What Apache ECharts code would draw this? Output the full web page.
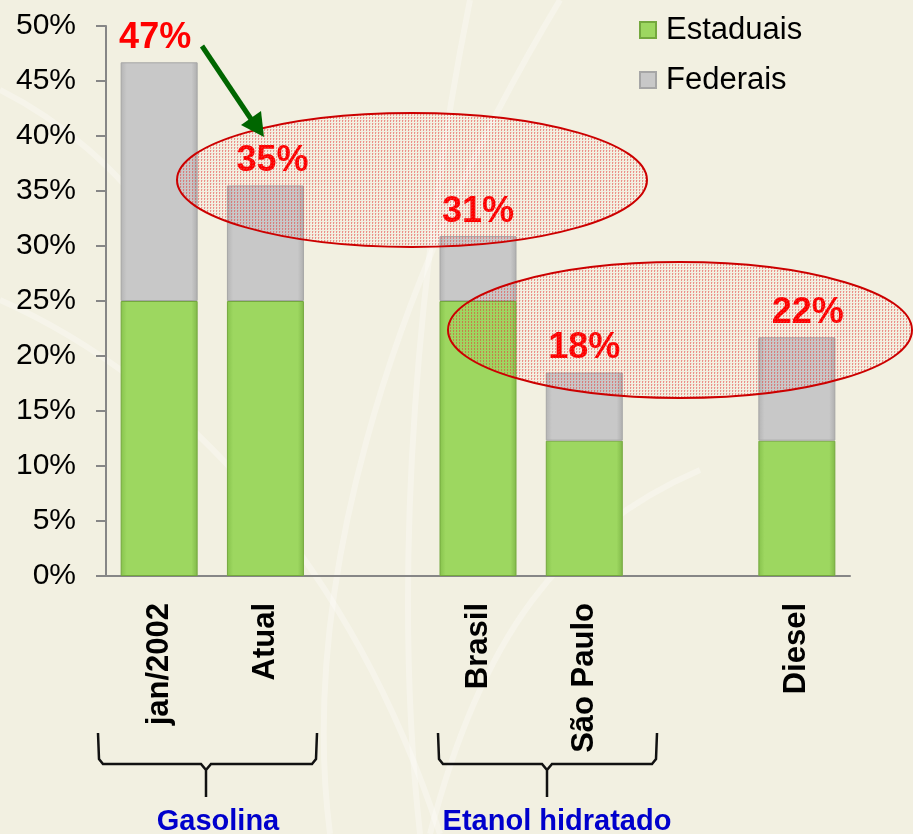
<!DOCTYPE html>
<html>
<head>
<meta charset="utf-8">
<script src="https://cdn.jsdelivr.net/npm/echarts@6/dist/echarts.min.js"></script>
<style>
html,body{margin:0;padding:0;background:#F2F0E1;}
#chart{width:913px;height:834px;}
</style>
</head>
<body>
<div id="chart"></div>
<script>
//categorias (as vazias separam os grupos)
var categorias = ['jan/2002', 'Atual', '', 'Brasil', 'São Paulo', '', 'Diesel'];
//tributos estaduais e federais (%)
var estaduais = [25, 25, null, 25, 12.3, null, 12.3];
var federais = [21.7, 10.5, null, 5.9, 6.2, null, 9.4];
//rotulos dos totais
var totais = ['47%', '35%', '', '31%', '18%', '', '22%'];
//grupos
var grupos = ['Gasolina', 'Etanol hidratado'];

var fonte = 'Arial, "Liberation Sans", sans-serif';

//deslocamento horizontal dos rotulos
var desloc = [-4, 7, 0, 0, 0, 0, 11];

//padrao pontilhado das elipses
function padrao(){
	var c = document.createElement('canvas');
	c.width = 3; c.height = 3;
	var ctx = c.getContext('2d');
	ctx.fillStyle = 'rgba(230,50,50,0.5)';
	ctx.fillRect(0, 0, 1, 2);
	ctx.fillStyle = 'rgba(240,120,120,0.25)';
	ctx.fillRect(1, 0, 1, 1);
	return {image: c, repeat: 'repeat'};
}

//chave embaixo do grupo
function chave(x1, x2, xc){
	var y0 = 733, y1 = 764, y2 = 797;
	return {
		type: 'polyline',
		z: 20,
		shape: {points: [[x1, y0], [x1 + 1, y1 - 5], [x1 + 5, y1], [xc - 5, y1], [xc, y1 + 6], [xc, y2],
			[xc, y1 + 6], [xc + 5, y1], [x2 - 5, y1], [x2 - 1, y1 - 5], [x2, y0]]},
		style: {stroke: '#111', lineWidth: 2.5, fill: null}
	};
}

function fundo(){
	var linhas = [
		[[330, 834], [300, 600], [380, 300], [560, 0]],
		[[420, 834], [390, 560], [420, 250], [470, 0]],
		[[0, 300], [180, 380], [350, 560], [440, 834]],
		[[430, 834], [480, 640], [560, 530], [700, 470]],
		[[0, 90], [60, 120], [120, 170], [160, 230]]
	];
	return linhas.map(function(p){
		return {
			type: 'bezierCurve',
			z: 0,
			shape: {x1: p[0][0], y1: p[0][1], cpx1: p[1][0], cpy1: p[1][1], cpx2: p[2][0], cpy2: p[2][1], x2: p[3][0], y2: p[3][1]},
			style: {stroke: 'rgba(255,255,255,0.3)', lineWidth: 6, fill: null}
		};
	});
}

var chart = echarts.init(document.getElementById('chart'));

var option = {
	backgroundColor: '#F2F0E1',
	animation: false,
	grid: {left: 106, right: 63, top: 26, bottom: 258},
	legend: {
		orient: 'vertical',
		left: 639,
		top: 12,
		padding: 0,
		itemWidth: 16,
		itemHeight: 16,
		itemGap: 14,
		icon: 'rect',
		textStyle: {fontFamily: fonte, fontSize: 31, color: '#000', lineHeight: 36, padding: [0, 0, 0, 5]},
		data: ['Estaduais', 'Federais']
	},
	xAxis: {
		type: 'category',
		data: categorias,
		axisLine: {lineStyle: {color: '#868686', width: 2}},
		axisTick: {length: 10, lineStyle: {color: '#868686', width: 2}},
		axisLabel: {
			rotate: 90,
			margin: 27,
			interval: 0,
			color: '#000',
			fontFamily: fonte,
			fontSize: 31,
			fontWeight: 'bold'
		}
	},
	yAxis: {
		type: 'value',
		min: 0,
		max: 50,
		interval: 5,
		axisLine: {show: true, lineStyle: {color: '#868686', width: 2}},
		axisTick: {show: true, length: 10, lineStyle: {color: '#868686', width: 2}},
		splitLine: {show: false},
		axisLabel: {
			formatter: '{value}%',
			margin: 30,
			color: '#000',
			fontFamily: fonte,
			fontSize: 30
		}
	},
	series: [
		{
			name: 'Estaduais',
			type: 'bar',
			stack: 'total',
			barWidth: 77,
			data: estaduais,
			itemStyle: {
				color: {type: 'linear', x: 0, y: 0, x2: 1, y2: 0, colorStops: [
					{offset: 0, color: '#86C24C'}, {offset: 0.08, color: '#9DD760'},
					{offset: 0.92, color: '#9DD760'}, {offset: 1, color: '#80B848'}]},
				borderColor: '#74A83E',
				borderWidth: 1
			}
		},
		{
			name: 'Federais',
			type: 'bar',
			stack: 'total',
			barWidth: 77,
			data: federais.map(function(v, i){
				return {
					value: v,
					label: {offset: [desloc[i], 0]}
				};
			}),
			itemStyle: {
				color: {type: 'linear', x: 0, y: 0, x2: 1, y2: 0, colorStops: [
					{offset: 0, color: '#B4B4B4'}, {offset: 0.08, color: '#C8C8C8'},
					{offset: 0.92, color: '#C8C8C8'}, {offset: 1, color: '#AEAEAE'}]},
				borderColor: '#A6A6A6',
				borderWidth: 1
			},
			label: {
				show: true,
				position: 'top',
				distance: 6,
				color: '#FF0000',
				fontFamily: fonte,
				fontSize: 36,
				fontWeight: 'bold',
				formatter: function(p){ return totais[p.dataIndex]; }
			}
		}
	],
	graphic: fundo().concat([
		{
			type: 'ellipse',
			z: 5,
			shape: {cx: 412, cy: 180, rx: 235, ry: 67},
			style: {fill: padrao(), stroke: '#CC0000', lineWidth: 2}
		},
		{
			type: 'ellipse',
			z: 5,
			shape: {cx: 680, cy: 330, rx: 232, ry: 68},
			style: {fill: padrao(), stroke: '#CC0000', lineWidth: 2}
		},
		{
			type: 'line',
			z: 20,
			shape: {x1: 202, y1: 46, x2: 253, y2: 122},
			style: {stroke: '#006600', lineWidth: 5}
		},
		{
			type: 'polygon',
			z: 20,
			shape: {points: [[264, 137], [241, 125], [261, 111]]},
			style: {fill: '#006600'}
		},
		chave(98, 317, 206),
		chave(438, 657, 547),
		{
			type: 'text',
			z: 20,
			style: {x: 218, y: 822, text: grupos[0], fill: '#0000CC', font: 'bold 29px ' + fonte, textAlign: 'center', textVerticalAlign: 'middle'}
		},
		{
			type: 'text',
			z: 20,
			style: {x: 557, y: 822, text: grupos[1], fill: '#0000CC', font: 'bold 29px ' + fonte, textAlign: 'center', textVerticalAlign: 'middle'}
		}
	])
};

chart.setOption(option);
</script>
</body>
</html>
